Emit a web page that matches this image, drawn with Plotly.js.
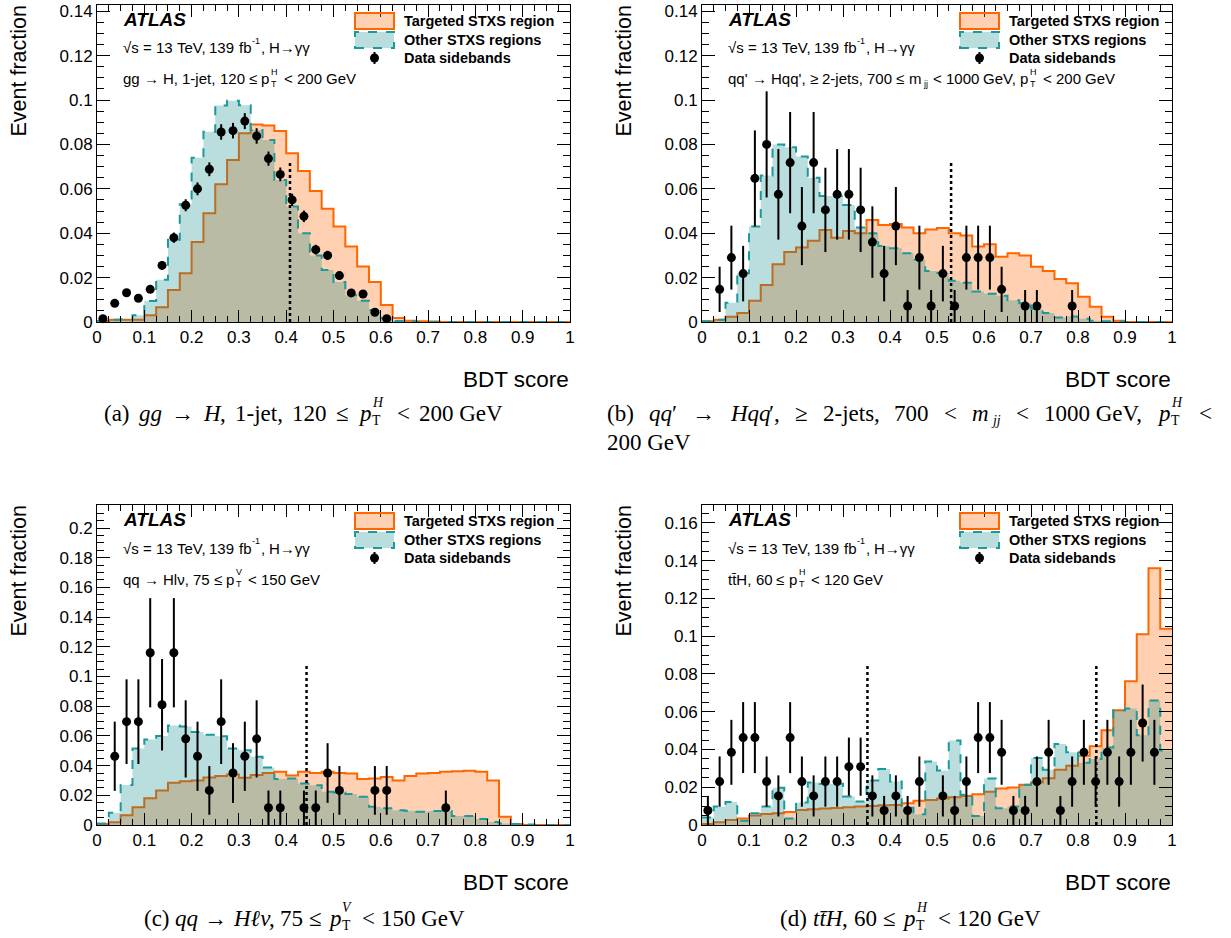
<!DOCTYPE html>
<html><head><meta charset="utf-8">
<script src="https://cdn.plot.ly/plotly-3.0.1.min.js"></script>
<style>html,body{margin:0;padding:0;background:#fff;}#chart{width:1231px;height:938px;}</style>
</head><body><div id="chart"></div>
<script>
// ---------- DATA ----------
const binEdges = [0,0.025,0.05,0.075,0.1,0.125,0.15,0.175,0.2,0.225,0.25,0.275,0.3,0.325,0.35,0.375,0.4,0.425,0.45,0.475,0.5,0.525,0.55,0.575,0.6,0.625,0.65,0.675,0.7,0.725,0.75,0.775,0.8,0.825,0.85,0.875,0.9,0.925,0.95,0.975,1];
const binCenters = [0.0125,0.0375,0.0625,0.0875,0.1125,0.1375,0.1625,0.1875,0.2125,0.2375,0.2625,0.2875,0.3125,0.3375,0.3625,0.3875,0.4125,0.4375,0.4625,0.4875,0.5125,0.5375,0.5625,0.5875,0.6125,0.6375,0.6625,0.6875,0.7125,0.7375,0.7625,0.7875,0.8125,0.8375,0.8625,0.8875,0.9125,0.9375,0.9625,0.9875];
const xTickStep = 0.1;   // major ticks: 0, 0.1, ..., 1
const xMinorStep = 0.025;
const yTickStep = 0.02;
const yMinorStep = 0.005;

// (a) gg -> H, 1-jet, 120 <= pTH < 200 GeV
const targetedA = [0.0005,0.001,0.001,0.001,0.003,0.0066,0.0144,0.022,0.036,0.049,0.062,0.073,0.085,0.089,0.0885,0.086,0.076,0.068,0.059,0.051,0.043,0.034,0.025,0.018,0.0077,0.0018,0.0006,0.0003,0.0002,0,0,0,0,0,0,0,0,0,0,0];
const otherA = [0.0005,0.001,0.0012,0.003,0.0095,0.019,0.037,0.053,0.074,0.0857,0.0975,0.0997,0.0976,0.0865,0.082,0.064,0.052,0.040,0.030,0.0234,0.018,0.012,0.0096,0.0054,0.0017,0.0005,0.0002,0,0,0,0,0,0,0,0,0,0,0,0,0];
const dataBinsA = [0,1,2,3,4,5,6,7,8,9,10,11,12,13,14,15,16,17,18,19,20,21,22,23,24];
const dataA = [0.0015,0.0084,0.0132,0.0107,0.0147,0.0255,0.038,0.0526,0.060,0.0688,0.0856,0.0862,0.0905,0.0838,0.0736,0.0665,0.055,0.0476,0.0326,0.030,0.0209,0.0131,0.0126,0.0044,0.0015];
const errA = [0.0005,0.0011,0.0014,0.0012,0.0015,0.0019,0.0023,0.0027,0.0029,0.0031,0.0035,0.0035,0.0036,0.0035,0.0032,0.0031,0.0028,0.0026,0.0022,0.0021,0.0017,0.0014,0.0013,0.0008,0.0005];
const cutsA = [0.408]; const cutTopA = 0.072;

// (b) qq' -> Hqq', >=2-jets, 700 < mjj < 1000 GeV, pTH < 200 GeV
const targetedB = [0.0003,0.001,0.0024,0.004,0.0096,0.0167,0.026,0.0315,0.0336,0.0366,0.0414,0.038,0.041,0.040,0.046,0.0437,0.0441,0.0426,0.040,0.0417,0.0423,0.040,0.039,0.034,0.035,0.0294,0.031,0.030,0.0249,0.023,0.0194,0.0174,0.0114,0.0069,0.0024,0.0006,0,0,0,0];
const otherB = [0.0003,0.001,0.0087,0.022,0.043,0.066,0.080,0.0787,0.0745,0.065,0.0568,0.0568,0.0527,0.0426,0.040,0.0342,0.0332,0.031,0.028,0.023,0.0222,0.0186,0.0177,0.0137,0.0127,0.0118,0.0098,0.0085,0.006,0.004,0.002,0.0025,0.0015,0.0006,0.0003,0.0002,0,0,0,0];
const dataBinsB = [1,2,3,4,5,6,7,8,9,10,11,12,13,14,15,16,17,18,19,20,21,22,23,24,25,27,28,31];
const dataB = [0.0147,0.029,0.0218,0.0647,0.080,0.0575,0.0718,0.0432,0.0718,0.0505,0.0575,0.0575,0.0505,0.036,0.0218,0.0432,0.0072,0.029,0.0072,0.0218,0.0072,0.029,0.029,0.029,0.0147,0.0072,0.0072,0.0072];
const errB = [0.0102,0.0144,0.0125,0.0216,0.0239,0.0204,0.0228,0.0176,0.0228,0.019,0.0204,0.0204,0.019,0.0161,0.0125,0.0176,0.0072,0.0144,0.0072,0.0125,0.0072,0.0144,0.0144,0.0144,0.0102,0.0072,0.0072,0.0072];
const cutsB = [0.530]; const cutTopB = 0.072;

// (c) qq -> Hlv, 75 <= pTV < 150 GeV
const targetedC = [0.0007,0.0018,0.0065,0.0119,0.018,0.0233,0.0284,0.0295,0.030,0.032,0.033,0.034,0.0318,0.0336,0.035,0.0358,0.0333,0.0358,0.035,0.0358,0.035,0.0347,0.031,0.0313,0.0324,0.030,0.033,0.0347,0.035,0.0358,0.0362,0.0365,0.0358,0.030,0.0056,0.0007,0,0,0,0];
const otherC = [0.001,0.0083,0.027,0.0515,0.0575,0.060,0.067,0.0664,0.0626,0.0608,0.0597,0.0515,0.0503,0.0459,0.0387,0.031,0.0313,0.028,0.0268,0.0224,0.0219,0.0208,0.019,0.0123,0.0112,0.010,0.0096,0.009,0.0094,0.0094,0.006,0.006,0.004,0.002,0.001,0.0007,0.0003,0,0,0];
const dataBinsC = [1,2,3,4,5,6,7,8,9,10,11,12,13,14,15,17,18,19,20,23,24,29];
const dataC = [0.0463,0.0696,0.0696,0.116,0.081,0.116,0.058,0.0463,0.0233,0.0696,0.035,0.0463,0.058,0.0116,0.0116,0.0116,0.0116,0.035,0.0233,0.0233,0.0233,0.0116];
const errC = [0.0233,0.0285,0.0285,0.0368,0.0308,0.0368,0.026,0.0233,0.0164,0.0285,0.0201,0.0233,0.026,0.0116,0.0116,0.0116,0.0116,0.0201,0.0164,0.0164,0.0164,0.0116];
const cutsC = [0.443]; const cutTopC = 0.107;

// (d) ttH, 60 <= pTH < 120 GeV
const targetedD = [0.0005,0.0014,0.0027,0.0035,0.005,0.0058,0.0062,0.0069,0.008,0.0083,0.0087,0.009,0.0094,0.0098,0.0101,0.0105,0.0106,0.0115,0.0129,0.0133,0.014,0.0147,0.0154,0.0163,0.0176,0.0193,0.0199,0.0213,0.0225,0.0248,0.0293,0.0314,0.0367,0.0417,0.0502,0.0608,0.0762,0.101,0.136,0.104];
const otherD = [0.004,0.0098,0.0122,0.0023,0.0062,0.0098,0.0197,0.0035,0.0119,0.0225,0.0218,0.0218,0.0151,0.0124,0.0236,0.0296,0.023,0.0092,0.0057,0.0337,0.0289,0.0447,0.016,0.0048,0.0246,0.0089,0.0098,0.0213,0.0355,0.0293,0.0429,0.0385,0.033,0.035,0.041,0.0608,0.0617,0.0475,0.066,0.0395];
const dataBinsD = [0,1,2,3,4,5,6,7,8,9,10,11,12,13,14,15,16,17,18,20,21,22,23,24,25,26,27,28,29,30,31,32,33,34,35,36,37,38];
const dataD = [0.0077,0.023,0.0385,0.0463,0.0463,0.023,0.0154,0.0463,0.023,0.0154,0.023,0.023,0.0309,0.0309,0.0154,0.0077,0.0154,0.0077,0.023,0.0154,0.0077,0.023,0.0463,0.0463,0.0385,0.0077,0.0077,0.023,0.0385,0.0077,0.023,0.0385,0.023,0.0385,0.023,0.0385,0.054,0.0385];
const errD = [0.0077,0.0133,0.0172,0.0188,0.0188,0.0133,0.0109,0.0188,0.0133,0.0109,0.0133,0.0133,0.0154,0.0154,0.0109,0.0077,0.0109,0.0077,0.0133,0.0109,0.0077,0.0133,0.0188,0.0188,0.0172,0.0077,0.0077,0.0133,0.0172,0.0077,0.0133,0.0172,0.0133,0.0172,0.0133,0.0172,0.0204,0.0172];
const cutsD = [0.352,0.839]; const cutTopD = 0.085;

const yTitle = 'Event fraction';
const xTitle = 'BDT score';
const legendLabels = ['Targeted STXS region','Other STXS regions','Data sidebands'];

// ---------- STYLE ----------
const W = 1231, H = 938;
const ORANGE = '#ff6600', ORANGE_FILL = 'rgba(255,102,0,0.30)';
const TEAL = '#1a9a9a', TEAL_FILL = 'rgba(0,128,128,0.27)';
const SANS = 'Liberation Sans, Arial, Helvetica, sans-serif';
const SERIF = 'Liberation Serif, Times New Roman, serif';
const SANS_C = '"Liberation Sans"', SERIF_C = '"Liberation Serif"';
const NB = '\u00a0';
const px = v => v / W, py = v => 1 - v / H;

const layout = {
  width: W, height: H, margin:{l:0,r:0,t:0,b:0},
  paper_bgcolor:'#fff', plot_bgcolor:'#fff', showlegend:false,
  font:{family:SANS, color:'#000'},
  annotations:[], shapes:[]
};

// rich text made of separate plain annotations (stacked sub/superscripts, justification)
const ctx = document.createElement('canvas').getContext('2d');
function measure(t, size, famC, it, bd) {
  ctx.font = (it ? 'italic ' : '') + (bd ? 'bold ' : '') + size + 'px ' + famC;
  return ctx.measureText(t).width;
}
function rich(segs, o) {
  const S = o.size, sm = S * 0.6;
  const pieces = [];
  let x = 0;
  segs.forEach(sg => {
    if (sg.t !== undefined) {
      sg.t.split(/(?<= )/).forEach(pt => {
        if (!pt) return;
        pieces.push({t:pt, x:x, dy:0, size:S, i:!!sg.i, b:!!sg.b, sp:pt.endsWith(' ')});
        x += measure(pt, S, o.famC, sg.i, sg.b);
      });
    } else {
      x += (sg.pre !== undefined ? sg.pre : 1.5);
      let w = 0;
      if (sg.sub) { pieces.push({t:sg.sub, x:x, dy:S*0.34, size:sm, i:!!sg.si}); w = Math.max(w, measure(sg.sub, sm, o.famC, sg.si)); }
      if (sg.sup) { pieces.push({t:sg.sup, x:x, dy:-S*0.47, size:sm, i:!!sg.pi}); w = Math.max(w, measure(sg.sup, sm, o.famC, sg.pi)); }
      x += w + (sg.gap || 0);
    }
  });
  let extra = 0;
  if (o.justify) {
    const nsp = pieces.filter((p, k) => p.sp && k < pieces.length - 1).length;
    extra = nsp ? (o.justify - x) / nsp : 0;
    x = o.justify;
  }
  const start = o.anchor === 'center' ? o.x - x / 2 : o.x;
  let off = 0;
  pieces.forEach(p => {
    const t = p.t.replace(/ +$/, '');
    if (t) {
      layout.annotations.push({xref:'paper', yref:'paper', x:px(start + p.x + off), y:py(o.y + p.dy),
        xanchor:'left', yanchor:'middle', showarrow:false, borderpad:0, text:t,
        font:{family:o.fam, size:p.size, color:'#000', style:p.i ? 'italic' : 'normal', weight:p.b ? 'bold' : 'normal'}});
    }
    if (p.sp) off += extra;
  });
}

const panels = [
  {id:'', tgt:targetedA, oth:otherA, bins:dataBinsA, d:dataA, e:errA, cuts:cutsA, cutTop:cutTopA,
   x0:97, x1:570, yt:5, yb:322, ymax:0.1428,
   info:[{t:'gg → H, 1-jet, 120 ≤ p'}, {sub:'T', sup:'H', gap:2}, {t:' < 200 GeV'}]},
  {id:'2', tgt:targetedB, oth:otherB, bins:dataBinsB, d:dataB, e:errB, cuts:cutsB, cutTop:cutTopB,
   x0:702, x1:1172, yt:5, yb:322, ymax:0.1428,
   info:[{t:"qq' → Hqq', ≥ 2-jets, 700 ≤ m"}, {sub:'jj', gap:2}, {t:' < 1000 GeV, p'}, {sub:'T', sup:'H', gap:2}, {t:' < 200 GeV'}]},
  {id:'3', tgt:targetedC, oth:otherC, bins:dataBinsC, d:dataC, e:errC, cuts:cutsC, cutTop:cutTopC,
   x0:97, x1:570, yt:505, yb:825, ymax:0.2155,
   info:[{t:'qq → Hlν, 75 ≤ p'}, {sub:'T', sup:'V', gap:2}, {t:' < 150 GeV'}]},
  {id:'4', tgt:targetedD, oth:otherD, bins:dataBinsD, d:dataD, e:errD, cuts:cutsD, cutTop:cutTopD,
   x0:702, x1:1172, yt:505, yb:825, ymax:0.1695,
   info:[{t:'tt̄H, 60 ≤ p'}, {sub:'T', sup:'H', gap:2}, {t:' < 120 GeV'}]}
];

const traces = [];
const axBase = {showline:true, linecolor:'#000', linewidth:1, mirror:'ticks', ticks:'inside',
  tickcolor:'#000', tickwidth:1, showgrid:false, zeroline:false, fixedrange:true,
  tickfont:{family:SANS, size:17, color:'#000'}};

panels.forEach(p => {
  const xa = 'x' + p.id, ya = 'y' + p.id;
  layout['xaxis' + p.id] = Object.assign({}, axBase, {
    domain:[px(p.x0), px(p.x1)], anchor:ya, range:[0,1],
    tickmode:'linear', tick0:0, dtick:xTickStep, ticklen:12,
    minor:{dtick:xMinorStep, tick0:0, ticklen:6, ticks:'inside', tickcolor:'#000', showgrid:false}
  });
  layout['yaxis' + p.id] = Object.assign({}, axBase, {
    domain:[py(p.yb), py(p.yt)], anchor:xa, range:[0,p.ymax],
    tickmode:'linear', tick0:0, dtick:yTickStep, ticklen:13,
    minor:{dtick:yMinorStep, tick0:0, ticklen:7, ticks:'inside', tickcolor:'#000', showgrid:false}
  });
  traces.push({x:binEdges, y:p.tgt.concat([p.tgt[p.tgt.length-1]]), xaxis:xa, yaxis:ya,
    mode:'lines', line:{shape:'hv', color:ORANGE, width:2}, fill:'tozeroy', fillcolor:ORANGE_FILL, hoverinfo:'skip'});
  traces.push({x:binEdges, y:p.oth.concat([p.oth[p.oth.length-1]]), xaxis:xa, yaxis:ya,
    mode:'lines', line:{shape:'hv', color:TEAL, width:2, dash:'dash'}, fill:'tozeroy', fillcolor:TEAL_FILL, hoverinfo:'skip'});
  p.cuts.forEach(c => {
    traces.push({x:[c,c], y:[0,p.cutTop], xaxis:xa, yaxis:ya, mode:'lines',
      line:{color:'#000', width:2.5, dash:'dot'}, hoverinfo:'skip'});
  });
  traces.push({x:p.bins.map(i => binCenters[i]), y:p.d, xaxis:xa, yaxis:ya, mode:'markers',
    marker:{color:'#000', size:9, symbol:'circle'},
    error_y:{type:'data', array:p.e, visible:true, color:'#000', thickness:2, width:0}, cliponaxis:false});

  const tx = p.x0 + 25, top = p.yt;
  rich([{t:'ATLAS', i:true, b:true}], {x:tx, y:top+14, size:19, fam:SANS, famC:SANS_C});
  rich([{t:'√s = 13 TeV, 139 fb'}, {sup:'-1', gap:1, pre:0.5}, {t:', H→γγ'}], {x:tx, y:top+43, size:15, fam:SANS, famC:SANS_C});
  rich(p.info, {x:tx, y:top+74, size:15, fam:SANS, famC:SANS_C});

  const lx0 = p.x0 + 258, lx1 = p.x0 + 297, ltx = p.x0 + 306;
  layout.shapes.push({type:'rect', xref:'paper', yref:'paper', x0:px(lx0), x1:px(lx1), y0:py(top+24), y1:py(top+8),
    fillcolor:ORANGE_FILL, line:{color:ORANGE, width:2}});
  layout.shapes.push({type:'rect', xref:'paper', yref:'paper', x0:px(lx0), x1:px(lx1), y0:py(top+43), y1:py(top+27),
    fillcolor:TEAL_FILL, line:{color:TEAL, width:2, dash:'dash'}});
  const mx = (lx0 + lx1) / 2;
  layout.shapes.push({type:'line', xref:'paper', yref:'paper', x0:px(mx), x1:px(mx), y0:py(top+47), y1:py(top+59),
    line:{color:'#000', width:2}});
  layout.shapes.push({type:'circle', xref:'paper', yref:'paper', x0:px(mx-4.5), x1:px(mx+4.5), y0:py(top+57.5), y1:py(top+48.5),
    fillcolor:'#000', line:{color:'#000', width:0}});
  [16, 35, 53].forEach((dy, k) => {
    rich([{t:legendLabels[k], b:true}], {x:ltx, y:top+dy, size:14.5, fam:SANS, famC:SANS_C});
  });
  layout.annotations.push({xref:'paper', yref:'paper', x:px(p.x0 - 79), y:py(p.yt - 1), xanchor:'center', yanchor:'top',
    text:yTitle, textangle:-90, showarrow:false, font:{family:SANS, size:21.5, color:'#000'}});
  layout.annotations.push({xref:'paper', yref:'paper', x:px(p.x1 + 1), y:py(p.yb + 57), xanchor:'right', yanchor:'middle',
    text:xTitle, showarrow:false, font:{family:SANS, size:22.5, color:'#000'}});
});

// captions (sub-figure labels)
const cap = {size:23, fam:SERIF, famC:SERIF_C};
rich([{t:'(a) '}, {t:'gg', i:true}, {t:' → '}, {t:'H', i:true}, {t:', 1-jet, 120 ≤ '}, {t:'p', i:true},
      {sub:'T', sup:'H', pi:true, gap:6, pre:2.5}, {t:' < 200' + NB + 'GeV'}], Object.assign({x:103, y:413, justify:399}, cap));
rich([{t:'(b) '}, {t:'qq', i:true}, {t:'′ → '}, {t:'Hqq', i:true}, {t:'′, ≥ 2-jets, 700 < '}, {t:'m', i:true},
      {sub:'jj', si:true, gap:3, pre:2.5}, {t:' < 1000' + NB + 'GeV, '}, {t:'p', i:true}, {sub:'T', sup:'H', pi:true, gap:3, pre:2.5}, {t:' <'}],
     Object.assign({x:606, y:413, justify:605}, cap));
rich([{t:'200' + NB + 'GeV'}], Object.assign({x:606, y:442}, cap));
rich([{t:'(c) '}, {t:'qq', i:true}, {t:' → '}, {t:'Hℓν', i:true}, {t:', 75 ≤ '}, {t:'p', i:true},
      {sub:'T', sup:'V', pi:true, gap:6, pre:2.5}, {t:' < 150' + NB + 'GeV'}], Object.assign({x:303, y:918, anchor:'center'}, cap));
rich([{t:'(d) '}, {t:'tt̄H', i:true}, {t:', 60 ≤ '}, {t:'p', i:true},
      {sub:'T', sup:'H', pi:true, gap:6, pre:2.5}, {t:' < 120' + NB + 'GeV'}], Object.assign({x:779, y:918, justify:261}, cap));

Plotly.newPlot('chart', traces, layout, {staticPlot:true, displayModeBar:false});
</script>
</body></html>
